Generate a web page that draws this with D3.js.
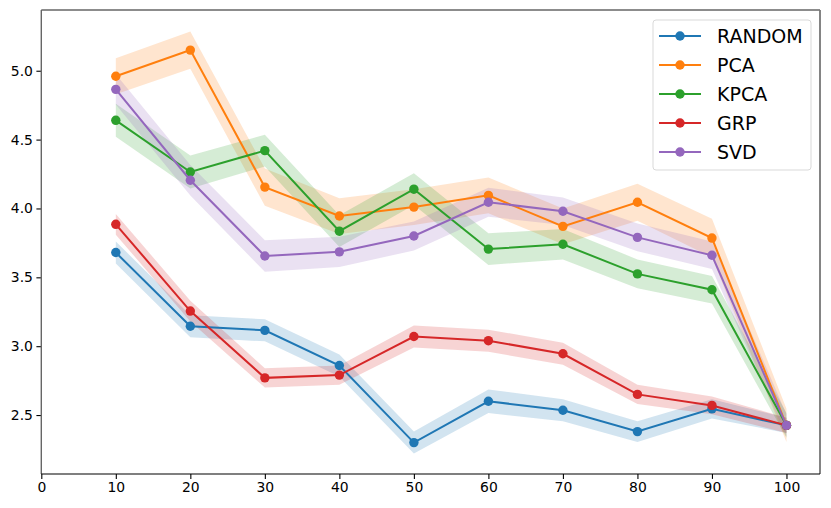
<!DOCTYPE html>
<html>
<head>
<meta charset="utf-8">
<script src="https://cdn.jsdelivr.net/npm/d3@7"></script>
<style>
  body { margin: 0; background: #fff; }
  .chart text { font-family: "DejaVu Sans", sans-serif; }
  .axis path { display: none; }
  .axis line { stroke: #000; stroke-width: 1.1; }
  .axis text { font-size: 13.9px; fill: #000; }
</style>
</head>
<body>
<div class="chart"></div>
<script>
// x values (number of components)
var xValues = [10, 20, 30, 40, 50, 60, 70, 80, 90, 100];
var seriesNames = ["RANDOM", "PCA", "KPCA", "GRP", "SVD"];

// mean values per method
var randomMean = [3.68, 3.145, 3.115, 2.86, 2.30, 2.60, 2.535, 2.38, 2.545, 2.425];
var pcaMean    = [4.96, 5.15, 4.155, 3.945, 4.01, 4.095, 3.87, 4.045, 3.785, 2.425];
var kpcaMean   = [4.64, 4.265, 4.42, 3.835, 4.14, 3.705, 3.74, 3.525, 3.41, 2.425];
var grpMean    = [3.885, 3.255, 2.77, 2.79, 3.07, 3.04, 2.945, 2.65, 2.57, 2.425];
var svdMean    = [4.865, 4.205, 3.655, 3.685, 3.80, 4.045, 3.98, 3.79, 3.66, 2.425];

// spread (std) per method
var randomStd = [0.08, 0.08, 0.08, 0.08, 0.08, 0.085, 0.08, 0.075, 0.07, 0.055];
var pcaStd    = [0.13, 0.135, 0.135, 0.13, 0.13, 0.13, 0.13, 0.135, 0.14, 0.12];
var kpcaStd   = [0.12, 0.12, 0.115, 0.115, 0.115, 0.115, 0.11, 0.105, 0.10, 0.09];
var grpStd    = [0.075, 0.075, 0.07, 0.07, 0.08, 0.08, 0.08, 0.07, 0.065, 0.055];
var svdStd    = [0.11, 0.11, 0.115, 0.11, 0.105, 0.105, 0.1, 0.1, 0.1, 0.08];

var xTicks = [0, 10, 20, 30, 40, 50, 60, 70, 80, 90, 100];
var yTicks = [2.5, 3.0, 3.5, 4.0, 4.5, 5.0];

var colors = ["#1f77b4", "#ff7f0e", "#2ca02c", "#d62728", "#9467bd"];

var means = [randomMean, pcaMean, kpcaMean, grpMean, svdMean];
var stds = [randomStd, pcaStd, kpcaStd, grpStd, svdStd];

var series = seriesNames.map(function(name, k) {
  return {
    name: name,
    color: colors[k],
    values: xValues.map(function(x, i) {
      return { x: x, y: means[k][i], sd: stds[k][i] };
    })
  };
});

var options = {
  margin: { top: 10, right: 11, bottom: 34, left: 41.3 },
  svg: { width: 831, height: 508 }
};
var width = options.svg.width - options.margin.left - options.margin.right;
var height = options.svg.height - options.margin.top - options.margin.bottom;

var scaleX = d3.scaleLinear().domain([0, 104.5]).range([0, width]);
var scaleY = d3.scaleLinear().domain([2.072, 5.441]).range([height, 0]);

var svg = d3.select(".chart").append("svg")
  .attr("width", options.svg.width)
  .attr("height", options.svg.height)
  .append("g")
  .attr("transform", "translate(" + options.margin.left + "," + options.margin.top + ")");

// std bands first (matplotlib puts fills below lines)
var band = d3.area()
  .x(function(d) { return scaleX(d.x); })
  .y0(function(d) { return scaleY(d.y - d.sd); })
  .y1(function(d) { return scaleY(d.y + d.sd); });

series.forEach(function(s) {
  svg.append("path")
    .attr("d", band(s.values))
    .attr("fill", s.color)
    .attr("fill-opacity", 0.2);
});

var valueline = d3.line()
  .x(function(d) { return scaleX(d.x); })
  .y(function(d) { return scaleY(d.y); });

series.forEach(function(s) {
  var g = svg.append("g");
  g.append("path")
    .attr("d", valueline(s.values))
    .attr("fill", "none")
    .attr("stroke", s.color)
    .attr("stroke-width", 2);
  g.selectAll("circle")
    .data(s.values)
    .enter()
    .append("circle")
    .attr("cx", function(d) { return scaleX(d.x); })
    .attr("cy", function(d) { return scaleY(d.y); })
    .attr("r", 4.7)
    .attr("fill", s.color);
});

// axes
var xAxis = d3.axisBottom(scaleX).tickValues(xTicks).tickFormat(d3.format("d"))
  .tickSizeOuter(0).tickSizeInner(4.9).tickPadding(3.5);
var yAxis = d3.axisLeft(scaleY).tickValues(yTicks).tickFormat(d3.format(".1f"))
  .tickSizeOuter(0).tickSizeInner(4.9).tickPadding(3.5);

svg.append("g")
  .attr("class", "x axis")
  .attr("transform", "translate(0," + height + ")")
  .call(xAxis);

svg.append("g")
  .attr("class", "y axis")
  .call(yAxis);

// spines
svg.append("line").attr("x1", 0).attr("x2", 0).attr("y1", 0).attr("y2", height)
  .attr("stroke", "#666").attr("stroke-width", 1.4);
svg.append("line").attr("x1", 0).attr("x2", width).attr("y1", 0).attr("y2", 0)
  .attr("stroke", "#666").attr("stroke-width", 1.4);
svg.append("line").attr("x1", width).attr("x2", width).attr("y1", 0).attr("y2", height)
  .attr("stroke", "#777").attr("stroke-width", 1.8);
svg.append("line").attr("x1", 0).attr("x2", width).attr("y1", height).attr("y2", height)
  .attr("stroke", "#000").attr("stroke-width", 1.1);

// legend
var legend = svg.append("g")
  .attr("transform", "translate(" + (width - 167) + ",10)");
legend.append("rect")
  .attr("width", 158)
  .attr("height", 150)
  .attr("rx", 3)
  .attr("fill", "#fff")
  .attr("fill-opacity", 0.8)
  .attr("stroke", "#d9d9d9")
  .attr("stroke-width", 1);

series.forEach(function(s, i) {
  var row = legend.append("g").attr("transform", "translate(0," + (16 + i * 29) + ")");
  row.append("line")
    .attr("x1", 6).attr("x2", 48)
    .attr("stroke", s.color).attr("stroke-width", 2);
  row.append("circle")
    .attr("cx", 27).attr("r", 4.7).attr("fill", s.color);
  row.append("text")
    .attr("x", 64)
    .attr("dy", "0.36em")
    .style("font-size", "19px")
    .attr("fill", "#000")
    .text(s.name);
});
</script>
</body>
</html>
